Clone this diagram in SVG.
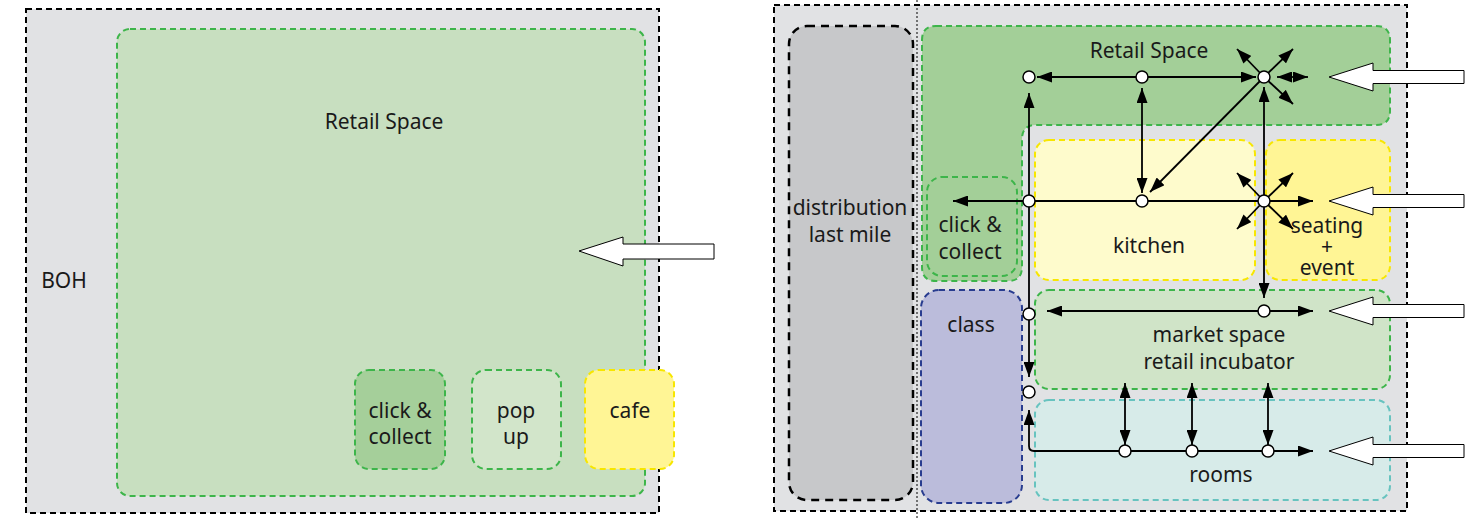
<svg xmlns="http://www.w3.org/2000/svg" width="1479" height="518" viewBox="0 0 1479 518">
<style>
.t{font-family:"Noto Sans","Open Sans","DejaVu Sans",sans-serif;font-size:21px;fill:#1a1a1a;text-anchor:middle}
.outer{fill:#e1e2e4;stroke:#000;stroke-width:2;stroke-dasharray:6 4}
.g{stroke:#3db54a;stroke-width:2;stroke-dasharray:6 4}
.y{stroke:#f7e600;stroke-width:2;stroke-dasharray:6 4}
.c{stroke:#000;stroke-width:1.8;fill:none}
.n{fill:#fff;stroke:#000;stroke-width:1.5}
.ba{fill:#fff;stroke:#000;stroke-width:1}
</style>
<defs>
<marker id="ah" viewBox="0 0 15 11" refX="15" refY="5.5" markerWidth="15" markerHeight="11" markerUnits="userSpaceOnUse" orient="auto-start-reverse">
<path d="M0,0 L15,5.5 L0,11 z" fill="#000"/>
</marker>
</defs>

<!-- LEFT DIAGRAM -->
<g id="boh">
<rect class="outer" x="26" y="9" width="633" height="504"/>
<text class="t" x="64" y="288">BOH</text>
</g>
<g id="retail-left">
<rect class="g" x="117" y="29" width="528" height="467" rx="13" fill="#c8dfc0"/>
<text class="t" x="384" y="129">Retail Space</text>
</g>
<g id="cc-left">
<rect class="g" x="355" y="370" width="90" height="99" rx="14" fill="#a5cf9a"/>
<text class="t" x="400" y="418">click &amp;</text>
<text class="t" x="400" y="444">collect</text>
</g>
<g id="popup">
<rect class="g" x="472" y="370" width="89" height="99" rx="14" fill="#d2e5ca"/>
<text class="t" x="516" y="418">pop</text>
<text class="t" x="516" y="444">up</text>
</g>
<g id="cafe">
<rect class="y" x="585" y="370" width="89" height="99" rx="14" fill="#fff595"/>
<text class="t" x="630" y="418">cafe</text>
</g>
<g id="entry-left">
<polygon class="ba" points="579,251 623,237 623,244 714,244 714,259 623,259 623,266"/>
</g>

<!-- RIGHT DIAGRAM -->
<g id="site">
<rect class="outer" x="774" y="5" width="633" height="506"/>
</g>
<g id="distribution">
<rect x="789" y="26" width="124" height="474" rx="18" fill="#c7c8ca" stroke="#000" stroke-width="2.5" stroke-dasharray="8 6"/>
<text class="t" x="850" y="215">distribution</text>
<text class="t" x="850" y="242">last mile</text>
</g>
<line x1="917" y1="0" x2="917" y2="518" stroke="#000" stroke-width="1" stroke-dasharray="2 2"/>
<g id="retail-right">
<path class="g" fill="#a3cf98" d="M936,26 H1376 Q1390,26 1390,40 V111 Q1390,125 1376,125 H1036 Q1022,125 1022,139 V267 Q1022,281 1008,281 H936 Q922,281 922,267 V40 Q922,26 936,26 Z"/>
<text class="t" x="1149" y="58">Retail Space</text>
</g>
<g id="cc-right">
<rect class="g" x="927" y="177" width="90" height="99" rx="15" fill="#a3cf98"/>
<text class="t" x="970" y="232">click &amp;</text>
<text class="t" x="970" y="259">collect</text>
</g>
<g id="kitchen">
<rect class="y" x="1035" y="140" width="220" height="140" rx="14" fill="#fefbcc"/>
<text class="t" x="1149" y="253">kitchen</text>
</g>
<g id="seating">
<rect class="y" x="1266" y="140" width="124" height="140" rx="14" fill="#fff595"/>
<text class="t" x="1327" y="233">seating<tspan x="1327" y="254">+</tspan><tspan x="1327" y="275">event</tspan></text>
</g>
<g id="class">
<rect x="921" y="290" width="101" height="213" rx="18" fill="#bbbcdb" stroke="#283c8f" stroke-width="2" stroke-dasharray="6 4"/>
<text class="t" x="971" y="332">class</text>
</g>
<g id="market">
<rect class="g" x="1035" y="290" width="355" height="99" rx="14" fill="#d0e4c8"/>
<text class="t" x="1219" y="342">market space</text>
<text class="t" x="1219" y="369">retail incubator</text>
</g>
<g id="rooms">
<rect x="1035" y="400" width="355" height="100" rx="14" fill="#d7ebe9" stroke="#67c3bf" stroke-width="2" stroke-dasharray="6 4"/>
<text class="t" x="1221" y="482">rooms</text>
</g>

<g id="connectors">
<line class="c" x1="1142" y1="77" x2="1037" y2="77" marker-end="url(#ah)"/>
<line class="c" x1="1142" y1="77" x2="1256" y2="77" marker-end="url(#ah)"/>
<line class="c" x1="1029" y1="314" x2="1029" y2="93" marker-end="url(#ah)"/>
<line class="c" x1="1029" y1="314" x2="1029" y2="377" marker-end="url(#ah)"/>
<line class="c" x1="1029" y1="201" x2="953" y2="201"  marker-end="url(#ah)"/>
<line class="c" x1="1029" y1="201" x2="1313" y2="201" marker-end="url(#ah)"/>
<line class="c" x1="1142" y1="88" x2="1142" y2="193" marker-start="url(#ah)" marker-end="url(#ah)"/>
<line class="c" x1="1264" y1="77" x2="1150" y2="192" marker-end="url(#ah)"/>
<line class="c" x1="1264" y1="77" x2="1237" y2="49" marker-end="url(#ah)"/>
<line class="c" x1="1264" y1="77" x2="1293" y2="49" marker-end="url(#ah)"/>
<line class="c" x1="1264" y1="77" x2="1293" y2="104" marker-end="url(#ah)"/>
<line class="c" x1="1277" y1="77" x2="1308" y2="77" marker-start="url(#ah)" marker-end="url(#ah)"/>
<line class="c" x1="1264" y1="87" x2="1264" y2="298" marker-start="url(#ah)" marker-end="url(#ah)"/>
<line class="c" x1="1264" y1="201" x2="1237" y2="173" marker-end="url(#ah)"/>
<line class="c" x1="1264" y1="201" x2="1293" y2="173" marker-end="url(#ah)"/>
<line class="c" x1="1264" y1="201" x2="1237" y2="229" marker-end="url(#ah)"/>
<line class="c" x1="1264" y1="201" x2="1293" y2="229" marker-end="url(#ah)"/>
<line class="c" x1="1047" y1="311" x2="1313" y2="311" marker-start="url(#ah)" marker-end="url(#ah)"/>
<path class="c" d="M1029,410 V446 Q1029,451 1034,451 H1313" marker-start="url(#ah)" marker-end="url(#ah)"/>
<line class="c" x1="1125" y1="383" x2="1125" y2="445" marker-start="url(#ah)" marker-end="url(#ah)"/>
<line class="c" x1="1192" y1="383" x2="1192" y2="445" marker-start="url(#ah)" marker-end="url(#ah)"/>
<line class="c" x1="1268" y1="383" x2="1268" y2="445" marker-start="url(#ah)" marker-end="url(#ah)"/>
</g>

<g id="nodes">
<circle class="n" cx="1029" cy="77" r="6"/>
<circle class="n" cx="1142" cy="77" r="6"/>
<circle class="n" cx="1264" cy="77" r="6"/>
<circle class="n" cx="1029" cy="201" r="6"/>
<circle class="n" cx="1142" cy="201" r="6"/>
<circle class="n" cx="1264" cy="201" r="6"/>
<circle class="n" cx="1029" cy="314" r="6"/>
<circle class="n" cx="1264" cy="311" r="6"/>
<circle class="n" cx="1029" cy="392" r="6"/>
<circle class="n" cx="1125" cy="451" r="6"/>
<circle class="n" cx="1192" cy="451" r="6"/>
<circle class="n" cx="1268" cy="451" r="6"/>
</g>

<g id="entries-right">
<polygon class="ba" points="1329,77 1373,63 1373,70.5 1464,70.5 1464,83.5 1373,83.5 1373,91"/>
<polygon class="ba" points="1329,201 1373,187 1373,194.5 1464,194.5 1464,207.5 1373,207.5 1373,215"/>
<polygon class="ba" points="1329,311 1373,297 1373,304.5 1464,304.5 1464,317.5 1373,317.5 1373,325"/>
<polygon class="ba" points="1329,451 1373,437 1373,444.5 1464,444.5 1464,457.5 1373,457.5 1373,465"/>
</g>
</svg>
